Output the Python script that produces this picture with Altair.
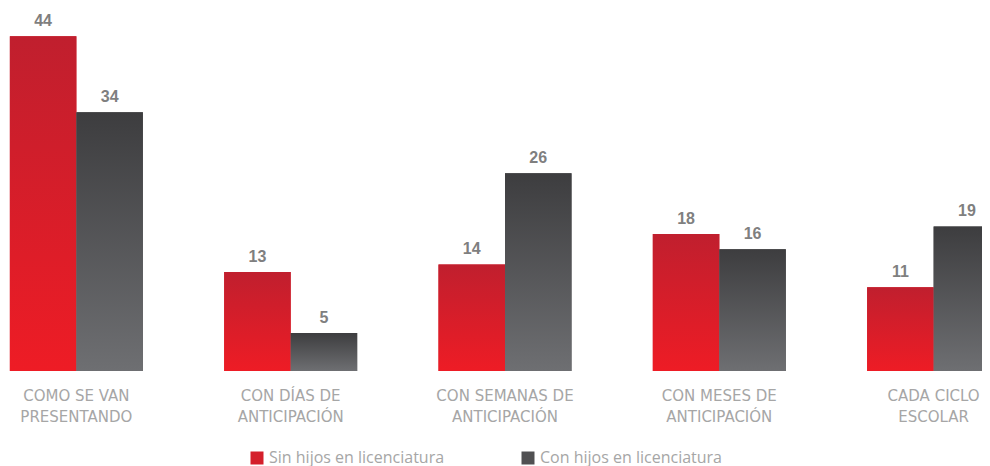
import altair as alt
import pandas as pd

categorias = ["COMO SE VAN|PRESENTANDO", "CON DÍAS DE|ANTICIPACIÓN", "CON SEMANAS DE|ANTICIPACIÓN",
              "CON MESES DE|ANTICIPACIÓN", "CADA CICLO|ESCOLAR"]
series = ["Sin hijos en licenciatura", "Con hijos en licenciatura"]
sin_hijos = [44, 13, 14, 18, 11]
con_hijos = [34, 5, 26, 16, 19]

rows = []
for c, a, b in zip(categorias, sin_hijos, con_hijos):
    rows.append({"cat": c, "serie": series[0], "valor": a})
    rows.append({"cat": c, "serie": series[1], "valor": b})
df = pd.DataFrame(rows)

grad_red = alt.Gradient(gradient="linear", x1=0, y1=0, x2=0, y2=1,
                        stops=[alt.GradientStop(color="#C01F2E", offset=0),
                               alt.GradientStop(color="#EE1C25", offset=1)])
grad_gray = alt.Gradient(gradient="linear", x1=0, y1=0, x2=0, y2=1,
                         stops=[alt.GradientStop(color="#3D3D3F", offset=0),
                                alt.GradientStop(color="#6E6F72", offset=1)])

x_enc = alt.X("cat:N", sort=categorias,
              scale=alt.Scale(range=[0, 994], paddingInner=0.3794, paddingOuter=0.0087),
              axis=alt.Axis(title=None, labelExpr="split(datum.label, '|')", domain=False,
                            ticks=False, labelAngle=0, labelFont="DejaVu Sans", labelFontSize=15,
                            labelColor="#A6A6A6", labelPadding=17, labelLineHeight=21,
                            labelBaseline="top", labelLimit=300))
xoff_enc = alt.XOffset("serie:N", sort=series,
                       scale=alt.Scale(domain=series, paddingInner=0, paddingOuter=0))
y_enc = alt.Y("valor:Q", scale=alt.Scale(domain=[0, 47.7], nice=False, zero=True), axis=None)

base = alt.Chart(df).encode(x=x_enc, xOffset=xoff_enc, y=y_enc)

bars = base.mark_bar().encode(
    color=alt.Color("serie:N", sort=series,
                    scale=alt.Scale(domain=series, range=["#D41F2B", "#505052"]),
                    legend=alt.Legend(orient="none", legendX=241, legendY=442, direction="horizontal",
                                      title=None, symbolType="square", symbolSize=169,
                                      symbolStrokeWidth=0, labelFontSize=16, labelColor="#A6A6A6",
                                      labelFont="Open Sans", columnPadding=75, labelOffset=4,
                                      padding=0, labelLimit=400))
)
red = base.transform_filter(alt.datum.serie == series[0]).mark_bar(fill=grad_red)
gray = base.transform_filter(alt.datum.serie == series[1]).mark_bar(fill=grad_gray)
labels = base.mark_text(dy=-10, baseline="alphabetic", fontSize=16, fontWeight="bold",
                        font="Liberation Sans", color="#7F7F7F").encode(text="valor:Q")

chart = alt.layer(bars, red, gray, labels).properties(
    width=974, height=363, padding={"left": 0, "top": 0, "right": 0, "bottom": 95},
    autosize=alt.AutoSizeParams(type="none")
).configure_view(stroke=None)

chart.save("out.html", embed_options={"renderer": "svg", "actions": False})
